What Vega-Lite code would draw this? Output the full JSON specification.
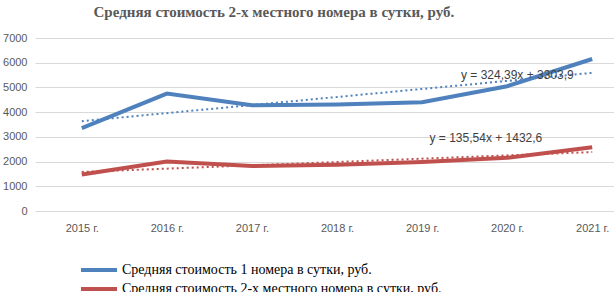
{
  "$schema": "https://vega.github.io/schema/vega-lite/v6.json",
  "width": 604,
  "height": 173,
  "padding": {"left": 2, "top": 5, "right": 0, "bottom": 0},
  "title": {"text": "Средняя стоимость 2-х местного номера в сутки, руб.", "font": "Liberation Serif", "fontSize": 15, "fontWeight": "bold", "color": "#595959", "anchor": "start", "dx": 91, "offset": 12},
  "config": {
    "view": {"stroke": null},
    "axis": {"labelFont": "Liberation Sans", "labelFontSize": 11, "labelColor": "#595959", "ticks": false, "domain": false, "title": null, "gridColor": "#d9d9d9", "gridWidth": 1, "labelOverlap": false}
  },
  "datasets": {
    "main": [
      {"year": 2015, "value": 3350, "series": "Средняя стоимость 1 номера в сутки, руб."},
      {"year": 2016, "value": 4750, "series": "Средняя стоимость 1 номера в сутки, руб."},
      {"year": 2017, "value": 4280, "series": "Средняя стоимость 1 номера в сутки, руб."},
      {"year": 2018, "value": 4310, "series": "Средняя стоимость 1 номера в сутки, руб."},
      {"year": 2019, "value": 4400, "series": "Средняя стоимость 1 номера в сутки, руб."},
      {"year": 2020, "value": 5050, "series": "Средняя стоимость 1 номера в сутки, руб."},
      {"year": 2021, "value": 6150, "series": "Средняя стоимость 1 номера в сутки, руб."},
      {"year": 2015, "value": 1480, "series": "Средняя стоимость 2-х местного номера в сутки, руб."},
      {"year": 2016, "value": 2000, "series": "Средняя стоимость 2-х местного номера в сутки, руб."},
      {"year": 2017, "value": 1820, "series": "Средняя стоимость 2-х местного номера в сутки, руб."},
      {"year": 2018, "value": 1870, "series": "Средняя стоимость 2-х местного номера в сутки, руб."},
      {"year": 2019, "value": 1980, "series": "Средняя стоимость 2-х местного номера в сутки, руб."},
      {"year": 2020, "value": 2150, "series": "Средняя стоимость 2-х местного номера в сутки, руб."},
      {"year": 2021, "value": 2580, "series": "Средняя стоимость 2-х местного номера в сутки, руб."}
    ],
    "eq": [
      {"year": 2020.12, "value": 5500, "label": "y = 324,39x + 3303,9"},
      {"year": 2019.75, "value": 2954, "label": "y = 135,54x + 1432,6"}
    ]
  },
  "encoding": {
    "x": {"field": "year", "type": "quantitative", "scale": {"domain": [2014.45, 2021.55], "nice": false, "zero": false},
      "axis": {"values": [2015, 2016, 2017, 2018, 2019, 2020, 2021], "labelExpr": "datum.value + ' г.'", "grid": false, "labelPadding": 11}},
    "y": {"field": "value", "type": "quantitative", "scale": {"domain": [0, 7000], "nice": false},
      "axis": {"values": [0, 1000, 2000, 3000, 4000, 5000, 6000, 7000], "format": "d", "labelPadding": 8, "grid": true}}
  },
  "layer": [
    {
      "data": {"name": "main"},
      "mark": {"type": "line", "strokeWidth": 4},
      "encoding": {
        "color": {"field": "series", "type": "nominal",
          "scale": {"domain": ["Средняя стоимость 1 номера в сутки, руб.", "Средняя стоимость 2-х местного номера в сутки, руб."], "range": ["#4F81BD", "#C0504D"]},
          "legend": {"orient": "none", "legendX": 56, "legendY": 224, "title": null, "direction": "vertical", "symbolType": "M-3,0H3", "symbolSize": 144, "symbolStrokeWidth": 4, "symbolDash": [1, 0], "labelFont": "Liberation Serif", "labelFontSize": 14, "labelColor": "#000000", "rowPadding": 3, "labelOffset": 15, "labelLimit": 600}}
      }
    },
    {
      "data": {"name": "main"},
      "transform": [{"regression": "value", "on": "year", "groupby": ["series"], "extent": [2015, 2021]}],
      "mark": {"type": "line", "strokeWidth": 2, "strokeDash": [2, 3]},
      "encoding": {
        "color": {"field": "series", "type": "nominal"}
      }
    },
    {
      "data": {"name": "eq"},
      "mark": {"type": "text", "font": "Liberation Sans", "fontSize": 12, "color": "#404040"},
      "encoding": {
        "text": {"field": "label"}
      }
    }
  ]
}
